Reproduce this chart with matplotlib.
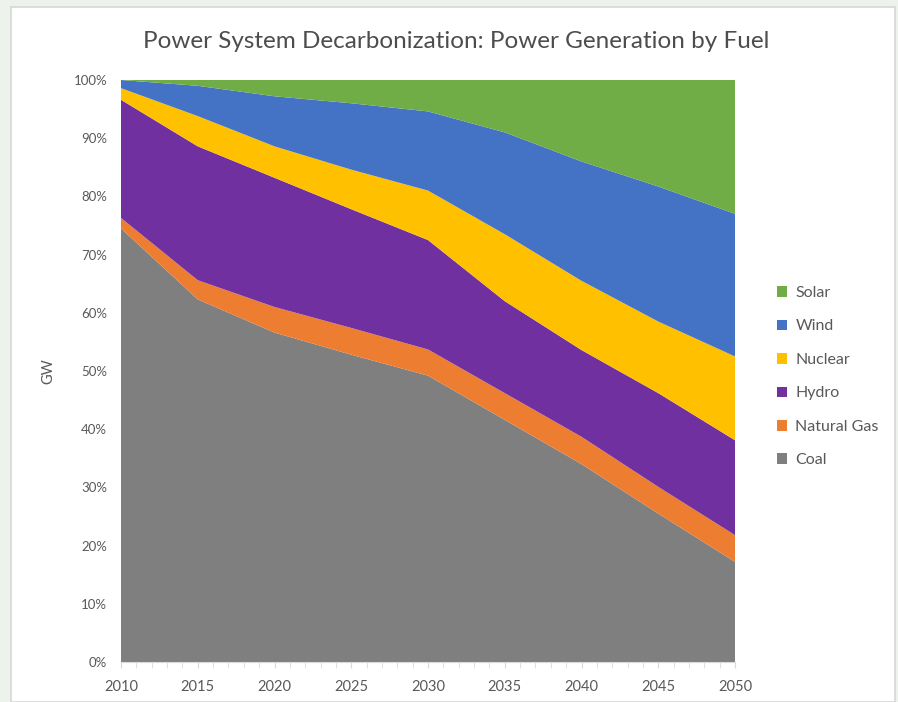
import matplotlib.pyplot as plt
from matplotlib.patches import Rectangle
from matplotlib.ticker import MultipleLocator, PercentFormatter

plt.rcParams["font.family"] = ["Lato", "DejaVu Sans"]

YEARS = [2010, 2015, 2020, 2025, 2030, 2035, 2040, 2045, 2050]

# share of generation per fuel, percent
COAL = [74.5, 62.3, 56.6, 52.8, 49.2, 41.6, 34.0, 25.5, 17.2]
NATURAL_GAS = [1.8, 3.3, 4.4, 4.6, 4.5, 4.6, 4.7, 4.6, 4.6]
HYDRO = [20.3, 23.0, 22.2, 20.4, 18.8, 15.8, 14.9, 16.1, 16.3]
NUCLEAR = [2.0, 5.2, 5.4, 6.8, 8.5, 11.5, 11.9, 12.3, 14.4]
WIND = [1.4, 5.2, 8.6, 11.4, 13.6, 17.5, 20.5, 23.2, 24.5]
SOLAR = [0.0, 1.0, 2.8, 4.0, 5.4, 9.0, 14.0, 18.3, 23.0]

FUELS = ["Coal", "Natural Gas", "Hydro", "Nuclear", "Wind", "Solar"]
COLORS = ["#7f7f7f", "#ed7d31", "#7030a0", "#ffc000", "#4472c4", "#70ad47"]

TEXT_COLOR = "#595959"

fig = plt.figure(figsize=(8.98, 7.02), dpi=100, facecolor="#edf2ec")

# white card the chart sits on
fig.patches.append(Rectangle((11 / 898, 0), 1 - 14 / 898, 1 - 7 / 702,
                             transform=fig.transFigure, facecolor="white",
                             edgecolor="#d4d8d4", linewidth=1.2, zorder=-10))

ax = fig.add_axes([121 / 898, 1 - 662 / 702, 614 / 898, 582 / 702])

series = [COAL, NATURAL_GAS, HYDRO, NUCLEAR, WIND, SOLAR]
totals = [sum(v) for v in zip(*series)]
shares = [[100 * v / t for v, t in zip(s, totals)] for s in series]
polys = ax.stackplot(YEARS, *shares, colors=COLORS, labels=FUELS, linewidth=0)

ax.set_xlim(2010, 2050)
ax.set_ylim(0, 100)
ax.xaxis.set_major_locator(MultipleLocator(5))
ax.xaxis.set_minor_locator(MultipleLocator(1))
ax.yaxis.set_major_locator(MultipleLocator(10))
ax.yaxis.set_major_formatter(PercentFormatter(decimals=0))

for side in ["top", "right", "left"]:
    ax.spines[side].set_visible(False)
ax.spines["bottom"].set_color("#d9d9d9")
ax.spines["bottom"].set_zorder(3)

ax.tick_params(axis="x", which="both", length=4, color="#d9d9d9",
               labelsize=10.5, labelcolor=TEXT_COLOR, pad=9)
ax.tick_params(axis="y", length=0, labelsize=9.5, labelcolor=TEXT_COLOR, pad=10)
ax.patch.set_alpha(0)

ax.set_ylabel("GW", fontsize=10.5, color=TEXT_COLOR, labelpad=13)

fig.text(456 / 898, 1 - 42 / 702,
         "Power System Decarbonization: Power Generation by Fuel",
         ha="center", va="center", fontsize=17.5, color="#4d4d4d")

handles = list(reversed(polys))
labels = list(reversed(FUELS))
fig.legend(handles, labels, loc="upper left",
           bbox_to_anchor=(777 / 898, 1 - 286 / 702),
           frameon=False, fontsize=11.5, labelcolor=TEXT_COLOR,
           handlelength=0.65, handleheight=0.65, handletextpad=0.5,
           labelspacing=1.22, borderaxespad=0, borderpad=0)

fig.savefig("out.png", dpi=100, facecolor=fig.get_facecolor())
